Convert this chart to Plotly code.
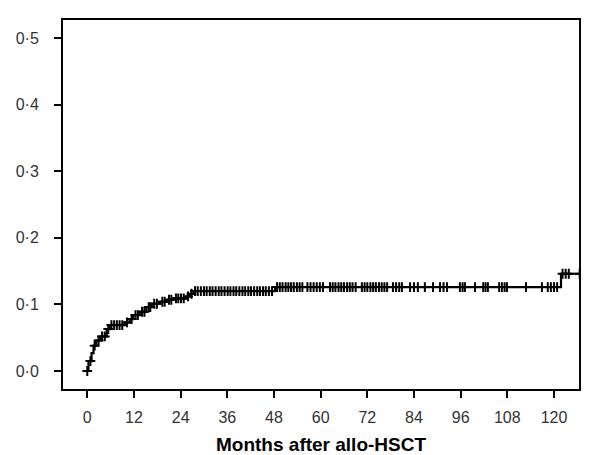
import numpy as np
import plotly.graph_objects as go

# Step-function event times (months) and cumulative incidence
event_months = [0, 0.3, 1.1, 1.6, 2.3, 3.4, 5.0, 5.8, 9.6, 10.9, 11.8, 13.5, 15.2, 16.6,
                18.6, 20.4, 22.1, 25.5, 26.4, 27.3, 48.3, 121.8, 128.5]
cum_incidence = [0, 0.015, 0.027, 0.038, 0.046, 0.052, 0.063, 0.069, 0.073, 0.078, 0.084,
                 0.089, 0.096, 0.101, 0.104, 0.107, 0.109, 0.112, 0.116, 0.120, 0.126,
                 0.146, 0.146]

# Censoring times (months)
censor_months = [0, 0.8, 1.9, 2.9, 3.8, 4.5, 5.4, 6.2, 6.9, 7.6, 8.3, 9.0, 10.2, 11.4, 12.4,
                 13.0, 14.1, 14.7, 15.8, 16.2, 17.2, 17.9, 19.3, 19.9, 21.0, 21.6, 22.8,
                 23.4, 24.1, 24.8, 25.9, 26.8, 27.7, 28.4, 29.2, 30.0, 30.7, 31.5, 32.2,
                 33.0, 33.8, 34.5, 35.3, 36.1, 36.8, 37.6, 38.3, 39.1, 39.9, 40.6, 41.4,
                 42.1, 42.9, 43.7, 44.4, 45.2, 45.9, 46.7, 47.5,
                 48.8, 49.5, 50.2, 51.0, 51.7, 52.4, 53.1, 53.9, 54.6, 55.3,
                 56.6, 57.4, 58.2, 59.0, 59.8, 60.6,
                 62.4, 63.1, 63.8, 64.6, 65.3, 66.0, 66.8, 67.5, 68.2, 69.0,
                 70.6, 71.3, 72.0, 72.8, 73.5, 74.2, 75.0, 75.7, 76.4, 77.1,
                 78.6, 79.4, 80.2, 80.9, 83.0, 84.0, 85.0, 86.8, 88.9, 90.7, 91.6, 92.5,
                 95.8, 96.5, 97.1, 99.7, 101.8, 102.4, 103.0, 105.9, 106.6, 107.3, 107.9,
                 112.8, 116.9, 118.4, 119.2, 120.0, 120.8, 122.2, 123.0, 123.8, 126.6]

x_ticks = [0, 12, 24, 36, 48, 60, 72, 84, 96, 108, 120]
y_ticks = [0.0, 0.1, 0.2, 0.3, 0.4, 0.5]
y_tick_labels = ["0·0", "0·1", "0·2", "0·3", "0·4", "0·5"]

# y value of the step function at each censor time
ev = np.array(event_months)
ci = np.array(cum_incidence)
idx = np.searchsorted(ev, np.array(censor_months), side="right") - 1
censor_y = ci[np.clip(idx, 0, None)]

x_min, x_max = -6.5, 129.0
box_right = 126.7

fig = go.Figure()
fig.add_trace(go.Scatter(x=event_months, y=cum_incidence, mode="lines",
                         line=dict(color="black", width=2.2, shape="hv"),
                         hoverinfo="skip", showlegend=False))
fig.add_trace(go.Scatter(x=censor_months, y=censor_y, mode="markers",
                         marker=dict(symbol="cross-thin", size=7, color="black",
                                     line=dict(color="black", width=2)),
                         showlegend=False, cliponaxis=False))

box_frac = (box_right - x_min) / (x_max - x_min)
fig.add_shape(type="rect", xref="paper", yref="paper", x0=0, x1=box_frac, y0=0, y1=1,
              line=dict(color="black", width=2), layer="above")

fig.add_annotation(text="<b>Months after allo-HSCT</b>", xref="paper", yref="paper",
                   x=box_frac / 2, y=-0.148, yanchor="middle", showarrow=False,
                   font=dict(family="Liberation Sans, Arial, sans-serif", size=19, color="black"))

# page body has an 8px margin, so the figure is 8px smaller and margins shifted
fig.update_layout(
    width=581, height=447,
    margin=dict(l=54, r=0, t=11, b=65),
    plot_bgcolor="white", paper_bgcolor="white",
    font=dict(family="Liberation Sans, Arial, sans-serif", size=16, color="#333333"),
    xaxis=dict(range=[x_min, x_max], tickvals=x_ticks, ticks="outside", ticklen=7,
               tickwidth=2, tickcolor="black", showgrid=False, zeroline=False,
               showline=False, ticklabelstandoff=6),
    yaxis=dict(range=[-0.0285, 0.5285], tickvals=y_ticks, ticktext=y_tick_labels,
               ticks="outside", ticklen=7, tickwidth=2, tickcolor="black",
               showgrid=False, zeroline=False, showline=False, ticklabelstandoff=12),
)

fig.write_html("out.html")
